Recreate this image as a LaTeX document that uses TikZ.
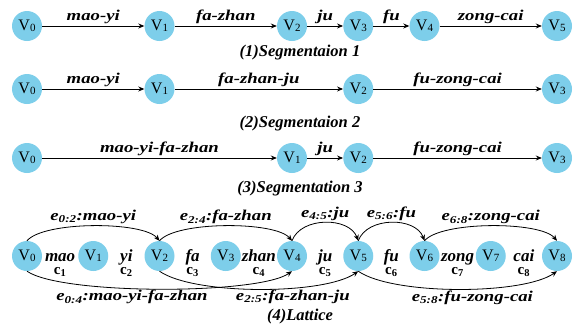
\documentclass[tikz,border=0pt]{standalone}
\usepackage{fontspec}
\setmainfont{Liberation Serif}
\newfontfamily\lblfont[FakeStretch=1.25]{Liberation Serif}
\usetikzlibrary{arrows.meta, positioning}

\definecolor{vblue}{RGB}{125,206,234}
\newcommand{\vx}[1]{V\raisebox{-1.5pt}{\fontsize{11}{11}\selectfont #1}}

\begin{document}
\begin{tikzpicture}[
    x=1pt, y=1pt, on grid,
    vtx/.style={circle, fill=vblue, minimum size=30pt, inner sep=0pt,
                font=\fontsize{16}{16}\selectfont},
    fl/.style={-{Stealth[length=6pt, width=5pt]}, line width=0.8pt},
    lbl/.style={font=\lblfont\fontsize{15}{15}\selectfont\bfseries\itshape, inner sep=1.5pt},
    capt/.style={font=\fontsize{16.5}{16.5}\selectfont\bfseries\itshape},
    chr/.style={font=\fontsize{17}{17}\selectfont\bfseries\itshape,
                text height=10pt, text depth=0pt, inner sep=0pt},
    cidx/.style={font=\fontsize{15}{15}\selectfont\bfseries,
                 text height=7.5pt, text depth=0pt, inner sep=0pt}
]
    \useasboundingbox (0,0) rectangle (579,-327);

    % (1) segmentation 1
    \node[vtx] (a0) at (27,-26) {\vx{0}};
    \node[vtx, right=132.5pt of a0] (a1) {\vx{1}};
    \node[vtx, right=132.5pt of a1] (a2) {\vx{2}};
    \node[vtx, right=66.25pt of a2] (a3) {\vx{3}};
    \node[vtx, right=66.25pt of a3] (a4) {\vx{4}};
    \node[vtx, right=132.5pt of a4] (a5) {\vx{5}};
    \node[capt] (cap1) at (300,-53) {(1)Segmentaion 1};

    \draw[fl] (a0) -- node[lbl, above] {mao-yi} (a1);
    \draw[fl] (a1) -- node[lbl, above] {fa-zhan} (a2);
    \draw[fl] (a2) -- node[lbl, above] {ju} (a3);
    \draw[fl] (a3) -- node[lbl, above] {fu} (a4);
    \draw[fl] (a4) -- node[lbl, above] {zong-cai} (a5);

    % (2) segmentation 2
    \node[vtx] (b0) at (27,-89) {\vx{0}};
    \node[vtx, right=132.5pt of b0] (b1) {\vx{1}};
    \node[vtx, right=198.75pt of b1] (b2) {\vx{2}};
    \node[vtx, right=198.75pt of b2] (b3) {\vx{3}};
    \node[capt] (cap2) at (300,-124) {(2)Segmentaion 2};

    \draw[fl] (b0) -- node[lbl, above] {mao-yi} (b1);
    \draw[fl] (b1) -- node[lbl, above] {fa-zhan-ju} (b2);
    \draw[fl] (b2) -- node[lbl, above] {fu-zong-cai} (b3);

    % (3) segmentation 3
    \node[vtx] (c0) at (27,-158) {\vx{0}};
    \node[vtx, right=265pt of c0] (c1) {\vx{1}};
    \node[vtx, right=66.25pt of c1] (c2) {\vx{2}};
    \node[vtx, right=198.75pt of c2] (c3) {\vx{3}};
    \node[capt] (cap3) at (300,-189) {(3)Segmentation 3};

    \draw[fl] (c0) -- node[lbl, above] {mao-yi-fa-zhan} (c1);
    \draw[fl] (c1) -- node[lbl, above] {ju} (c2);
    \draw[fl] (c2) -- node[lbl, above] {fu-zong-cai} (c3);

    % (4) lattice
    \node[vtx] (l0) at (27,-256) {\vx{0}};
    \node[vtx, right=66.25pt of l0] (l1) {\vx{1}};
    \node[vtx, right=66.25pt of l1] (l2) {\vx{2}};
    \node[vtx, right=66.25pt of l2] (l3) {\vx{3}};
    \node[vtx, right=66.25pt of l3] (l4) {\vx{4}};
    \node[vtx, right=66.25pt of l4] (l5) {\vx{5}};
    \node[vtx, right=66.25pt of l5] (l6) {\vx{6}};
    \node[vtx, right=66.25pt of l6] (l7) {\vx{7}};
    \node[vtx, right=66.25pt of l7] (l8) {\vx{8}};
    \node[capt] (cap4) at (300,-317) {(4)Lattice};

    \node[chr, right=33.125pt of l0] (ch1) {mao};
    \node[chr, right=33.125pt of l1] (ch2) {yi};
    \node[chr, right=33.125pt of l2] (ch3) {fa};
    \node[chr, right=33.125pt of l3] (ch4) {zhan};
    \node[chr, right=33.125pt of l4] (ch5) {ju};
    \node[chr, right=33.125pt of l5] (ch6) {fu};
    \node[chr, right=33.125pt of l6] (ch7) {zong};
    \node[chr, right=33.125pt of l7] (ch8) {cai};
    \node[cidx, below=14.5pt of ch1] (cc1) {c\textsubscript{1}};
    \node[cidx, below=14.5pt of ch2] (cc2) {c\textsubscript{2}};
    \node[cidx, below=14.5pt of ch3] (cc3) {c\textsubscript{3}};
    \node[cidx, below=14.5pt of ch4] (cc4) {c\textsubscript{4}};
    \node[cidx, below=14.5pt of ch5] (cc5) {c\textsubscript{5}};
    \node[cidx, below=14.5pt of ch6] (cc6) {c\textsubscript{6}};
    \node[cidx, below=14.5pt of ch7] (cc7) {c\textsubscript{7}};
    \node[cidx, below=14.5pt of ch8] (cc8) {c\textsubscript{8}};

    \draw[fl] (l0.north) to[out=50, in=130, looseness=.5]
        node[lbl, above] {e\textsubscript{0:2}:mao-yi} (l2.north);
    \draw[fl] (l2.north) to[out=50, in=130, looseness=.5]
        node[lbl, above] {e\textsubscript{2:4}:fa-zhan} (l4.north);
    \draw[fl] (l4.north) to[out=70, in=110]
        node[lbl, above] {e\textsubscript{4:5}:ju} (l5.north);
    \draw[fl] (l5.north) to[out=70, in=110]
        node[lbl, above] {e\textsubscript{5:6}:fu} (l6.north);
    \draw[fl] (l6.north) to[out=50, in=130, looseness=.5]
        node[lbl, above] {e\textsubscript{6:8}:zong-cai} (l8.north);

    \draw[fl] (l0.south) to[out=-35, in=-145, looseness=.4]
        node[lbl, below, pos=.42] {e\textsubscript{0:4}:mao-yi-fa-zhan} (l4.south);
    \draw[fl] (l2.south) to[out=-35, in=-145, looseness=.54]
        node[lbl, below, pos=.64] {e\textsubscript{2:5}:fa-zhan-ju} (l5.south);
    \draw[fl] (l5.south) to[out=-35, in=-145, looseness=.54]
        node[lbl, below, pos=.56] {e\textsubscript{5:8}:fu-zong-cai} (l8.south);
\end{tikzpicture}
\end{document}
